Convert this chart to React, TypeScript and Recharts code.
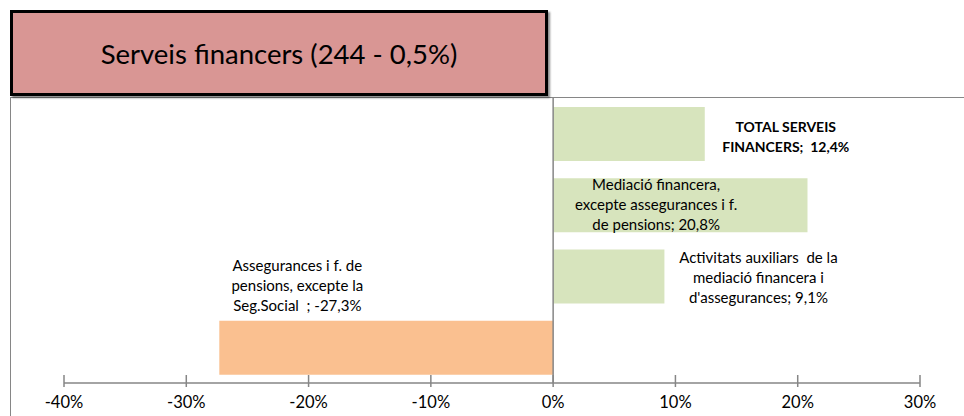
import { BarChart, Bar, XAxis, YAxis, ReferenceLine, LabelList, Cell } from "recharts";

const categories = [
  "TOTAL SERVEIS FINANCERS",
  "Mediació financera, excepte assegurances i f. de pensions",
  "Activitats auxiliars  de la mediació financera i d'assegurances",
  "Assegurances i f. de pensions, excepte la Seg.Social ",
];
const values = [12.4, 20.8, 9.1, -27.3];
// how each data label wraps; the value is appended to the last line
const labelLines = [
  ["TOTAL SERVEIS", "FINANCERS;  "],
  ["Mediació financera,", "excepte assegurances i f.", "de pensions; "],
  ["Activitats auxiliars  de la", "mediació financera i", "d'assegurances; "],
  ["Assegurances i f. de", "pensions, excepte la", "Seg.Social  ; "],
];
const xTicks = [-40, -30, -20, -10, 0, 10, 20, 30];

const data = categories.map((name, i) => ({ name, value: values[i] }));

const FONT = "Lato, 'Noto Sans', sans-serif";
const GRID = "#868686";
const GREEN = "#d7e4bd";
const ORANGE = "#fac090";

const fmt = (v: number) => v.toFixed(1).replace(".", ",") + "%";

// hand placed label spots in Excel, relative to the bar
const labelSpot = [
  { from: "right", dx: 81, dy: 2 },
  { from: "left", dx: 103, dy: -1 },
  { from: "right", dx: 94, dy: 0 },
  { from: "left", dx: 78, dy: -63 },
];

const BarLabel = (props: any) => {
  const { x, y, width, height, index } = props;
  const left = Math.min(x, x + width);
  const right = Math.max(x, x + width);
  const spot = labelSpot[index];
  const cx = (spot.from === "right" ? right : left) + spot.dx;
  const cy = y + height / 2 + spot.dy;
  const lines = labelLines[index].map((l, j, arr) =>
    j === arr.length - 1 ? l + fmt(values[index]) : l
  );
  const lh = 20;
  const top = cy - ((lines.length - 1) * lh) / 2;
  return (
    <text
      textAnchor="middle"
      fontFamily={FONT}
      fontSize={index === 0 ? 14 : 15}
      fontWeight={index === 0 ? 700 : 400}
      fill="#000"
    >
      {lines.map((l, j) => (
        <tspan key={j} x={cx} y={top + j * lh} dominantBaseline="central" style={{ whiteSpace: "pre" }}>
          {l}
        </tspan>
      ))}
    </text>
  );
};

const AxisTick = (props: any) => {
  const { x, y, payload } = props;
  return (
    <g>
      <line x1={x} x2={x} y1={y - 8} y2={y + 4} stroke={GRID} strokeWidth={1.5} />
      <text x={x} y={y + 25} textAnchor="middle" fontFamily={FONT} fontSize={16.5} fill="#000">
        {payload.value}%
      </text>
    </g>
  );
};

export default function App() {
  return (
    <div
      style={{
        position: "absolute",
        left: 0,
        top: 0,
        width: 964,
        height: 416,
        overflow: "hidden",
        background: "#fff",
        fontFamily: FONT,
      }}
    >
      {/* plot area frame */}
      <div
        style={{
          position: "absolute",
          left: 10,
          top: 97,
          width: 980,
          height: 400,
          borderLeft: `1.5px solid ${GRID}`,
          borderTop: `1.5px solid ${GRID}`,
        }}
      />
      <div style={{ position: "absolute", left: 0, top: 0 }}>
        <BarChart
          width={964}
          height={416}
          data={data}
          layout="vertical"
          margin={{ top: 98, right: 44, bottom: 0, left: 64 }}
          barSize={54}
        >
          <XAxis
            type="number"
            domain={[-40, 30]}
            ticks={xTicks}
            height={33}
            tickLine={false}
            tickSize={0}
            tickMargin={0}
            axisLine={{ stroke: GRID, strokeWidth: 1.5 }}
            tick={<AxisTick />}
            interval={0}
          />
          <YAxis type="category" dataKey="name" hide />
          <ReferenceLine x={0} stroke={GRID} strokeWidth={1.5} />
          <Bar dataKey="value" isAnimationActive={false}>
            {data.map((d, i) => (
              <Cell key={i} fill={d.value < 0 ? ORANGE : GREEN} />
            ))}
            <LabelList dataKey="value" content={<BarLabel />} />
          </Bar>
        </BarChart>
      </div>
      {/* title box */}
      <div
        style={{
          position: "absolute",
          left: 10,
          top: 10,
          width: 532,
          height: 80,
          background: "#d99694",
          border: "3.5px solid #000",
          boxShadow: "2px 2px 2px rgba(0,0,0,0.45)",
          display: "flex",
          alignItems: "center",
          justifyContent: "center",
          fontSize: 27.5,
          color: "#000",
        }}
      >
        Serveis financers (244 - 0,5%)
      </div>
    </div>
  );
}
